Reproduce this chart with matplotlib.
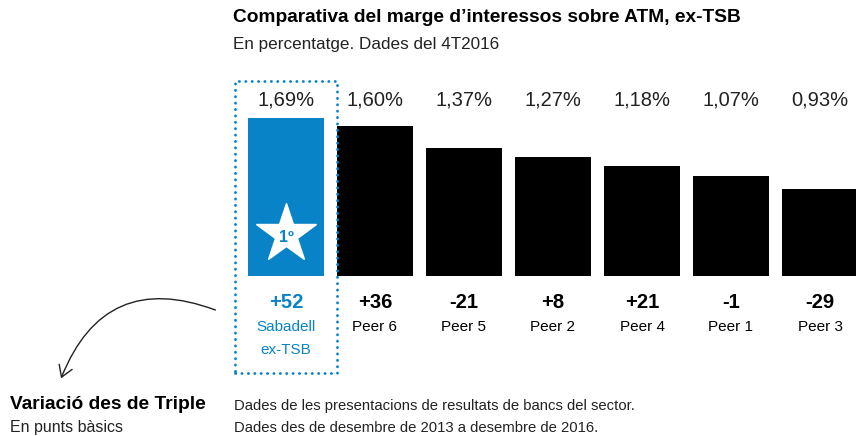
import numpy as np
import matplotlib
matplotlib.use('Agg')
import matplotlib.pyplot as plt
from matplotlib.patches import Rectangle, FancyArrowPatch

# data
banks = ['Sabadell\nex-TSB', 'Peer 6', 'Peer 5', 'Peer 2', 'Peer 4', 'Peer 1', 'Peer 3']
margin = [1.69, 1.60, 1.37, 1.27, 1.18, 1.07, 0.93]
change_bp = [52, 36, -21, 8, 21, -1, -29]
pct_labels = ['1,69%', '1,60%', '1,37%', '1,27%', '1,18%', '1,07%', '0,93%']

BLUE = '#0883c8'
W, H = 856, 436
plt.rcParams['font.family'] = ['Liberation Sans', 'DejaVu Sans']

fig = plt.figure(figsize=(W / 100, H / 100), dpi=100)

# axes covers whole figure; map bar index / value onto pixel layout
x0, step = 286, 89          # first bar centre and spacing in px
base, scale = 276.5, 94.0   # baseline px (from top), px per 1%
ax = fig.add_axes([0, 0, 1, 1])
ax.set_xlim((0 - x0) / step, (W - x0) / step)
ax.set_ylim(-(H - base) / scale, base / scale)
ax.axis('off')

def fx(px):
    return px / W

def fy(py):
    return 1 - py / H

x = np.arange(len(banks))
colors = [BLUE] + ['black'] * (len(banks) - 1)
ax.bar(x, margin, width=76 / step, color=colors, linewidth=0)

for i in range(len(banks)):
    cx = fx(x0 + step * i)
    c = BLUE if i == 0 else 'black'
    fig.text(cx, fy(100), pct_labels[i], ha='center', va='center',
             fontsize=14.5, color='#222222')
    fig.text(cx, fy(302), '%+d' % change_bp[i], ha='center', va='center',
             fontsize=14.5, fontweight='bold', color=c)
    for j, line in enumerate(banks[i].split('\n')):
        fig.text(cx, fy(327 + 23 * j), line, ha='center', va='center',
                 fontsize=11, color=c)

# star with ranking
ax.plot(0, (base - 234.5) / scale, marker='*', ms=45, color='white', mec='white')
fig.text(fx(286), fy(238), '1º', ha='center', va='center', fontsize=11.5,
         fontweight='bold', color=BLUE)

# dotted highlight box
box = Rectangle((fx(235), fy(373)), fx(337) - fx(235), fy(81) - fy(373),
                transform=fig.transFigure, fill=False, edgecolor=BLUE,
                linewidth=2, linestyle=(0, (0.1, 2.2)), capstyle='round')
fig.add_artist(box)

# titles
fig.text(fx(233), fy(18), 'Comparativa del marge d\u2019interessos sobre ATM, ex-TSB',
         ha='left', va='center', fontsize=13.8, fontweight='bold')
fig.text(fx(233), fy(44), 'En percentatge. Dades del 4T2016', ha='left', va='center',
         fontsize=12.3, color='#222222')

# left note + arrow
fig.text(fx(10), fy(404), 'Variació des de Triple', ha='left', va='center',
         fontsize=13.8, fontweight='bold')
fig.text(fx(10), fy(427), 'En punts bàsics', ha='left', va='center', fontsize=11.5,
         color='#222222')
arr = FancyArrowPatch((fx(218), fy(311)), (fx(60), fy(381)), transform=fig.transFigure,
                      connectionstyle='arc3,rad=0.5', arrowstyle='->,head_length=8,head_width=5',
                      color='#222222', linewidth=1)
fig.add_artist(arr)

# footnote
fig.text(fx(234), fy(406), 'Dades de les presentacions de resultats de bancs del sector.',
         ha='left', va='center', fontsize=10.7, color='#222222')
fig.text(fx(234), fy(428), 'Dades des de desembre de 2013 a desembre de 2016.',
         ha='left', va='center', fontsize=10.7, color='#222222')

fig.savefig('out.png', dpi=100)
